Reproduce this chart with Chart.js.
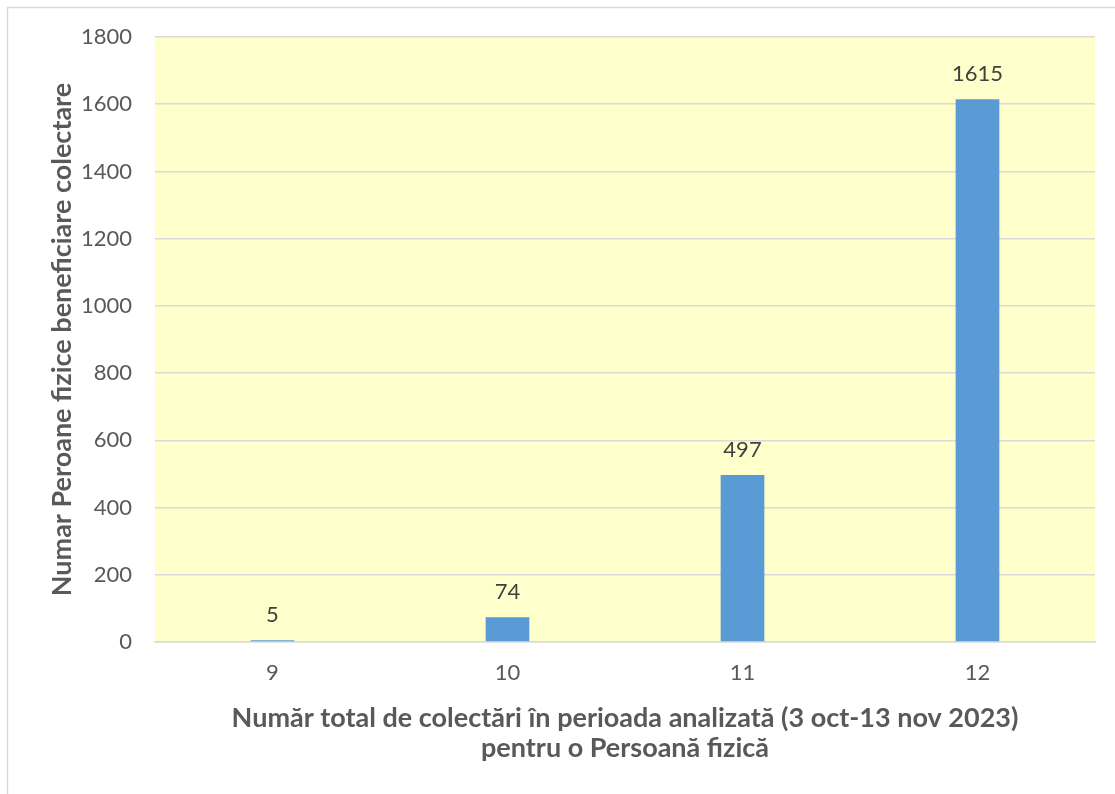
<!DOCTYPE html>
<html>
<head>
<meta charset="utf-8">
<script src="https://cdn.jsdelivr.net/npm/chart.js@4.4.0/dist/chart.umd.min.js"></script>
<style>
  html, body { margin: 0; padding: 0; background: #ffffff; }
  #wrap { width: 1115px; height: 794px; position: relative; }
</style>
</head>
<body>
<div id="wrap"><canvas id="c" width="1115" height="794"></canvas></div>
<script>
const categories = ['9', '10', '11', '12'];
const values = [5, 74, 497, 1615];
const yTicks = [0, 200, 400, 600, 800, 1000, 1200, 1400, 1600, 1800];
const yTitle = 'Numar Peroane fizice beneficiare colectare';
const xTitle = ['Număr total de colectări în perioada analizată (3 oct-13 nov 2023)', 'pentru o Persoană fizică'];

const FONT = 'Lato, Carlito, Calibri, "Liberation Sans", sans-serif';

const bgPlugin = {
  id: 'bg',
  beforeDraw(chart) {
    const ctx = chart.ctx;
    const a = chart.chartArea;
    ctx.save();
    ctx.fillStyle = '#ffffff';
    ctx.fillRect(0, 0, chart.width, chart.height);
    ctx.strokeStyle = '#d9d9d9';
    ctx.lineWidth = 1.5;
    ctx.beginPath();
    ctx.moveTo(7.5, chart.height + 5);
    ctx.lineTo(7.5, 7.5);
    ctx.lineTo(chart.width + 5, 7.5);
    ctx.stroke();
    ctx.fillStyle = '#FFFFCC';
    ctx.fillRect(a.left, a.top, a.right - a.left, a.bottom - a.top);
    ctx.restore();
  }
};

const labelPlugin = {
  id: 'vlabels',
  afterDatasetsDraw(chart) {
    const ctx = chart.ctx;
    const meta = chart.getDatasetMeta(0);
    ctx.save();
    ctx.font = '22px ' + FONT;
    ctx.fillStyle = '#404040';
    ctx.textAlign = 'center';
    ctx.textBaseline = 'middle';
    meta.data.forEach((bar, i) => {
      ctx.fillText(String(values[i]), bar.x, bar.y - 25);
    });
    ctx.restore();
  }
};

new Chart(document.getElementById('c'), {
  type: 'bar',
  data: {
    labels: categories,
    datasets: [{
      data: values,
      backgroundColor: '#5B9BD5',
      borderWidth: 0,
      categoryPercentage: 1,
      barPercentage: 0.186
    }]
  },
  options: {
    responsive: false,
    animation: false,
    devicePixelRatio: 1,
    layout: { padding: { left: 47, top: 37, right: 20, bottom: 31 } },
    plugins: { legend: { display: false }, tooltip: { enabled: false } },
    scales: {
      x: {
        grid: { display: false, drawTicks: false },
        border: { display: true, color: '#d9d9d9', width: 1.5 },
        ticks: { color: '#595959', font: { family: FONT, size: 22 }, padding: 18 },
        title: {
          display: true, text: xTitle, color: '#595959',
          font: { family: FONT, size: 27, weight: 'bold', lineHeight: '30px' },
          padding: { top: 0, bottom: 0 }
        },
        afterFit(s) { s.height = 121; }
      },
      y: {
        min: 0, max: 1800,
        afterBuildTicks(s) { s.ticks = yTicks.map(v => ({ value: v })); },
        grid: { color: '#d9d9d9', lineWidth: 1.5, drawTicks: false },
        border: { display: false },
        ticks: {
          color: '#595959', font: { family: FONT, size: 22 }, padding: 23,
          callback: (v) => String(v)
        },
        title: {
          display: true, text: yTitle, color: '#595959',
          font: { family: FONT, size: 27, weight: 'bold', lineHeight: '30px' },
          padding: { top: 0, bottom: 0 }
        },
        afterFit(s) { s.width = 108; }
      }
    }
  },
  plugins: [bgPlugin, labelPlugin]
});
</script>
</body>
</html>
